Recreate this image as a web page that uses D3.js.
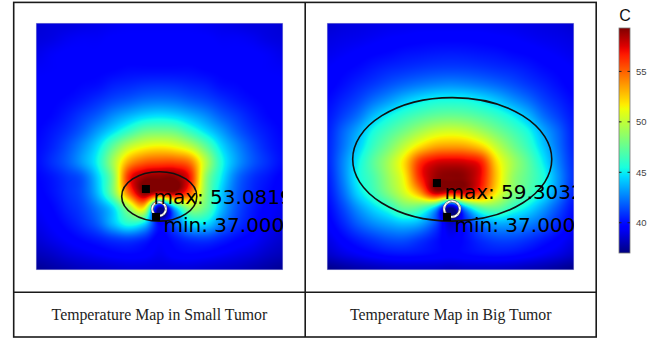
<!DOCTYPE html>
<html>
<head>
<meta charset="utf-8">
<script src="https://cdn.jsdelivr.net/npm/d3@7"></script>
<style>
  body { margin: 0; background: #fff; }
  svg { display: block; }
</style>
</head>
<body>
<svg id="chart"></svg>
<script>
// Temperature samples (deg C): 17 x 17 nodes, rows top -> bottom,
// node spacing 1/16 of the map width.
const smallTumor = [
  [38.2, 38.3, 38.3, 38.4, 38.5, 38.6, 38.7, 38.7, 38.7, 38.7, 38.7, 38.6, 38.5, 38.4, 38.3, 38.3, 38.2],
  [38.3, 38.4, 38.6, 38.7, 38.7, 38.8, 38.8, 38.8, 38.8, 38.8, 38.8, 38.8, 38.7, 38.7, 38.6, 38.4, 38.3],
  [38.5, 38.7, 38.8, 38.8, 38.8, 38.9, 38.9, 38.9, 38.9, 38.9, 38.9, 38.9, 38.8, 38.8, 38.8, 38.7, 38.5],
  [38.7, 38.75, 38.8, 38.9, 38.95, 39.0, 39.1, 39.1, 39.1, 39.1, 39.1, 39.0, 38.95, 38.9, 38.8, 38.75, 38.7],
  [38.8, 38.85, 38.9, 39.05, 39.15, 39.45, 39.6, 39.75, 39.8, 39.75, 39.6, 39.45, 39.15, 39.05, 38.9, 38.85, 38.8],
  [38.85, 38.95, 39.1, 39.35, 39.7, 40.1, 40.4, 40.7, 40.8, 40.7, 40.4, 40.1, 39.7, 39.35, 39.1, 38.95, 38.85],
  [38.9, 39.05, 39.4, 39.9, 40.45, 41.2, 41.8, 42.3, 42.5, 42.3, 41.8, 41.2, 40.45, 39.9, 39.4, 39.05, 38.9],
  [39.0, 39.3, 39.75, 40.45, 41.45, 42.5, 43.6, 44.6, 44.8, 44.6, 43.6, 42.5, 41.45, 40.45, 39.75, 39.3, 39.0],
  [39.1, 39.5, 40.2, 41.2, 42.5, 44.5, 46.3, 47.2, 47.5, 47.2, 46.3, 44.5, 42.5, 41.2, 40.2, 39.5, 39.1],
  [39.15, 39.7, 40.4, 41.5, 43.0, 45.8, 48.8, 50.0, 50.3, 50.3, 49.5, 46.2, 43.2, 41.5, 40.4, 39.7, 39.15],
  [39.0, 39.3, 39.8, 40.4, 42.3, 45.2, 51.0, 52.7, 52.9, 52.9, 51.2, 45.5, 42.8, 40.8, 39.8, 39.3, 38.9],
  [38.9, 39.2, 39.7, 40.3, 42.0, 45.0, 49.8, 53.0, 52.0, 52.5, 50.0, 45.2, 42.3, 40.5, 39.6, 39.1, 38.8],
  [38.7, 39.0, 39.5, 40.0, 41.0, 42.5, 45.5, 47.5, 37.0, 42.0, 45.5, 44.5, 42.0, 40.3, 39.4, 38.9, 38.6],
  [38.5, 38.8, 39.2, 39.7, 40.5, 42.0, 43.3, 42.5, 39.0, 40.5, 42.5, 42.5, 41.0, 39.9, 39.2, 38.7, 38.4],
  [38.2, 38.5, 38.8, 39.1, 39.4, 39.8, 40.0, 39.6, 38.8, 39.3, 39.8, 39.9, 39.5, 39.1, 38.8, 38.4, 38.1],
  [37.8, 38.0, 38.3, 38.5, 38.7, 38.9, 39.0, 38.9, 38.6, 38.9, 39.0, 38.9, 38.7, 38.5, 38.3, 38.0, 37.8],
  [37.3, 37.5, 37.7, 37.9, 38.0, 38.1, 38.2, 38.2, 38.2, 38.2, 38.2, 38.1, 38.0, 37.9, 37.7, 37.5, 37.3]
];

const bigTumor = [
  [38.6, 38.8, 38.9, 39.0, 39.1, 39.15, 39.2, 39.2, 39.2, 39.2, 39.2, 39.15, 39.1, 39.0, 38.9, 38.8, 38.6],
  [38.9, 39.05, 39.15, 39.3, 39.45, 39.55, 39.65, 39.7, 39.7, 39.7, 39.65, 39.55, 39.45, 39.3, 39.15, 39.05, 38.9],
  [39.15, 39.35, 39.55, 39.75, 39.9, 40.1, 40.2, 40.3, 40.35, 40.3, 40.2, 40.1, 39.9, 39.75, 39.55, 39.35, 39.15],
  [39.45, 39.7, 39.95, 40.3, 40.6, 40.8, 41.0, 41.15, 41.2, 41.15, 41.0, 40.8, 40.6, 40.3, 39.95, 39.7, 39.45],
  [39.6, 40.0, 40.5, 41.0, 41.55, 42.05, 42.45, 42.75, 42.9, 42.75, 42.45, 42.05, 41.55, 41.0, 40.5, 40.0, 39.6],
  [39.9, 40.5, 41.2, 42.2, 43.1, 44.05, 44.8, 45.3, 45.4, 45.3, 44.8, 44.05, 43.1, 42.2, 41.2, 40.5, 39.9],
  [40.2, 41.1, 42.2, 43.85, 45.1, 46.1, 46.85, 47.4, 47.6, 47.4, 46.85, 46.1, 45.1, 43.85, 42.2, 41.1, 40.2],
  [40.4, 41.9, 43.5, 45.4, 46.7, 47.9, 49.15, 50.15, 50.5, 50.15, 49.15, 47.9, 46.7, 45.4, 43.5, 41.9, 40.4],
  [40.5, 42.2, 44.2, 46.3, 48.0, 50.0, 52.0, 53.3, 53.6, 53.4, 52.3, 50.0, 48.0, 46.3, 44.2, 42.2, 40.5],
  [40.5, 42.6, 45.0, 47.2, 49.3, 52.0, 56.0, 57.5, 57.8, 57.6, 56.5, 52.0, 49.3, 47.3, 45.0, 42.6, 40.7],
  [40.3, 42.5, 45.2, 46.8, 49.0, 51.5, 56.3, 58.7, 59.1, 58.9, 57.0, 52.5, 49.0, 47.3, 45.6, 43.0, 40.8],
  [40.1, 42.0, 44.5, 46.3, 48.3, 50.5, 53.5, 58.0, 57.0, 57.5, 55.5, 51.5, 48.5, 46.8, 45.0, 42.7, 40.5],
  [39.8, 41.2, 43.0, 44.5, 45.8, 47.5, 47.0, 44.0, 37.0, 43.5, 47.0, 47.5, 46.0, 44.8, 43.2, 41.5, 40.0],
  [39.5, 40.5, 41.8, 42.8, 43.5, 44.0, 43.5, 41.5, 38.5, 40.5, 42.5, 43.5, 43.3, 42.7, 41.8, 40.6, 39.6],
  [39.0, 39.7, 40.4, 41.0, 41.5, 41.6, 41.0, 40.2, 39.4, 40.0, 40.8, 41.3, 41.3, 40.9, 40.3, 39.7, 39.0],
  [38.4, 38.9, 39.3, 39.7, 40.0, 40.1, 40.0, 39.8, 39.6, 39.8, 40.0, 40.1, 40.0, 39.7, 39.3, 38.9, 38.4],
  [37.2, 37.5, 37.8, 38.0, 38.2, 38.3, 38.3, 38.3, 38.2, 38.3, 38.3, 38.3, 38.2, 38.0, 37.8, 37.5, 37.2]
];

const panelTitles = ["Temperature Map in Small Tumor", "Temperature Map in Big Tumor"];
const minTemp = 37.0;
const maxTemps = [53.0819, 59.3032];
// map coordinates 0..100 across, 0..100 down
const maxPoints = [[44.5, 67.2], [44.5, 64.8]];
const minPoints = [[48.6, 78.5], [48.6, 78.5]];
const tumors = [[49.9, 70.2, 15.2, 10.0], [50.7, 55.2, 40.3, 25.0]]; // cx, cy, rx, ry
const vessels = [[49.8, 75.3, 2.8], [50.6, 75.3, 3.2]];             // cx, cy, r
const colorbarTicks = [40, 45, 50, 55];
const colorbarUnit = "C";

const width = 654, height = 339;
const mapSize = 247;
const mapLeft = [36, 327];
const mapTop = 23;

const svg = d3.select("#chart").attr("width", width).attr("height", height)
  .style("font-family", "'DejaVu Sans', sans-serif");

svg.append("rect").attr("width", width).attr("height", height).attr("fill", "#fff");

// jet colormap
const jetR = d3.scaleLinear().domain([0, 0.35, 0.66, 0.89, 1]).range([0, 0, 1, 1, 0.5]).clamp(true);
const jetG = d3.scaleLinear().domain([0, 0.125, 0.375, 0.64, 0.91, 1]).range([0, 0, 1, 1, 0, 0]).clamp(true);
const jetB = d3.scaleLinear().domain([0, 0.11, 0.34, 0.65, 1]).range([0.5, 1, 1, 0, 0]).clamp(true);
const jet = t => [jetR(t), jetG(t), jetB(t)].map(v => Math.round(v * 255));

// Catmull-Rom sampling of the node grid
const cubic = (p0, p1, p2, p3, t) =>
  p1 + 0.5 * t * (p2 - p0 + t * (2 * p0 - 5 * p1 + 4 * p2 - p3 + t * (3 * (p1 - p2) + p3 - p0)));

function sample(grid, gx, gy) {
  const n = grid.length - 1;
  const ix = Math.min(Math.floor(gx), n - 1), iy = Math.min(Math.floor(gy), n - 1);
  const tx = gx - ix, ty = gy - iy;
  const at = (r, c) => grid[Math.max(0, Math.min(n, r))][Math.max(0, Math.min(n, c))];
  const rows = [-1, 0, 1, 2].map(d =>
    cubic(at(iy + d, ix - 1), at(iy + d, ix), at(iy + d, ix + 1), at(iy + d, ix + 2), tx));
  return cubic(rows[0], rows[1], rows[2], rows[3], ty);
}

const defs = svg.append("defs");

[smallTumor, bigTumor].forEach((grid, p) => {
  const x = d3.scaleLinear().domain([0, 100]).range([mapLeft[p], mapLeft[p] + mapSize]);
  const y = d3.scaleLinear().domain([0, 100]).range([mapTop, mapTop + mapSize]);
  const node = d3.scaleLinear().domain([0, 100]).range([0, grid.length - 1]);
  const color = d3.scaleLinear().domain([minTemp, maxTemps[p]]).range([0, 1]).clamp(true);

  const canvas = document.createElement("canvas");
  canvas.width = mapSize; canvas.height = mapSize;
  const ctx = canvas.getContext("2d");
  const img = ctx.createImageData(mapSize, mapSize);
  for (let j = 0; j < mapSize; j++) {
    const gy = node(y.invert(mapTop + j + 0.5));
    for (let i = 0; i < mapSize; i++) {
      const gx = node(x.invert(mapLeft[p] + i + 0.5));
      const c = jet(color(sample(grid, gx, gy)));
      const k = (j * mapSize + i) * 4;
      img.data[k] = c[0]; img.data[k + 1] = c[1]; img.data[k + 2] = c[2]; img.data[k + 3] = 255;
    }
  }
  ctx.putImageData(img, 0, 0);

  svg.append("image")
    .attr("x", mapLeft[p]).attr("y", mapTop)
    .attr("width", mapSize).attr("height", mapSize)
    .attr("href", canvas.toDataURL());

  svg.append("rect")
    .attr("x", mapLeft[p] + 0.25).attr("y", mapTop + 0.25)
    .attr("width", mapSize - 0.5).attr("height", mapSize - 0.5)
    .attr("fill", "none").attr("stroke", "#9a9ad8").attr("stroke-width", 0.6);

  defs.append("clipPath").attr("id", "clip" + p)
    .append("rect").attr("x", mapLeft[p]).attr("y", mapTop)
    .attr("width", mapSize).attr("height", mapSize);

  const g = svg.append("g").attr("clip-path", `url(#clip${p})`);

  const tm = tumors[p];
  g.append("ellipse")
    .attr("cx", x(tm[0])).attr("cy", y(tm[1]))
    .attr("rx", x(tm[0] + tm[2]) - x(tm[0])).attr("ry", y(tm[1] + tm[3]) - y(tm[1]))
    .attr("fill", "none").attr("stroke", "#111").attr("stroke-width", 1.6);

  const v = vessels[p];
  const vr = x(v[0] + v[2]) - x(v[0]);
  g.append("circle")
    .attr("cx", x(v[0])).attr("cy", y(v[1])).attr("r", vr)
    .attr("fill", "none").attr("stroke", "#555").attr("stroke-width", 2.8);
  g.append("circle")
    .attr("cx", x(v[0])).attr("cy", y(v[1])).attr("r", vr)
    .attr("fill", "none").attr("stroke", "#fff").attr("stroke-width", 1.8);
  g.append("circle")
    .attr("cx", x(v[0])).attr("cy", y(v[1])).attr("r", vr)
    .attr("fill", "none").attr("stroke", "#bbb").attr("stroke-width", 1)
    .attr("stroke-dasharray", "2 3");

  const labels = [
    [maxPoints[p], "max: " + maxTemps[p].toFixed(4)],
    [minPoints[p], "min: " + minTemp.toFixed(4)]
  ];
  labels.forEach(([pt, label]) => {
    g.append("rect")
      .attr("x", x(pt[0]) - 4).attr("y", y(pt[1]) - 4)
      .attr("width", 8).attr("height", 8).attr("fill", "#000");
    g.append("text")
      .attr("x", x(pt[0]) + 7.5).attr("y", y(pt[1]) + 15.5)
      .attr("font-size", 20).attr("fill", "#000")
      .text(label);
  });
});

// table frame and captions
const frame = svg.append("g").attr("stroke", "#1a1a1a").attr("stroke-width", 1.6).attr("fill", "none");
frame.append("rect").attr("x", 13.7).attr("y", 2.4).attr("width", 582.5).attr("height", 334.6);
frame.append("line").attr("x1", 305.2).attr("x2", 305.2).attr("y1", 2.4).attr("y2", 337);
frame.append("line").attr("x1", 13.7).attr("x2", 596.2).attr("y1", 292.3).attr("y2", 292.3);

const cellCenters = [(13.7 + 305.2) / 2, (305.2 + 596.2) / 2];
svg.selectAll("text.caption")
  .data(panelTitles)
  .join("text")
  .attr("class", "caption")
  .attr("x", (d, i) => cellCenters[i])
  .attr("y", 320)
  .attr("text-anchor", "middle")
  .attr("font-family", "'Liberation Serif', 'Times New Roman', serif")
  .attr("font-size", 15.8)
  .attr("fill", "#222")
  .text(d => d);

// colorbar
const cbX = 619, cbW = 11;
const cbScale = d3.scaleLinear().domain([minTemp, maxTemps[1]]).range([253, 28]);
const grad = defs.append("linearGradient").attr("id", "jetbar")
  .attr("x1", 0).attr("y1", 1).attr("x2", 0).attr("y2", 0);
d3.range(0, 1.0001, 0.02).forEach(t => {
  const c = jet(t);
  grad.append("stop").attr("offset", t).attr("stop-color", `rgb(${c[0]},${c[1]},${c[2]})`);
});
svg.append("rect")
  .attr("x", cbX).attr("y", cbScale(maxTemps[1]))
  .attr("width", cbW).attr("height", cbScale(minTemp) - cbScale(maxTemps[1]))
  .attr("fill", "url(#jetbar)").attr("stroke", "#777").attr("stroke-width", 0.8);

const tickG = svg.append("g");
colorbarTicks.forEach(t => {
  tickG.append("line").attr("x1", cbX).attr("x2", cbX + 2.5)
    .attr("y1", cbScale(t)).attr("y2", cbScale(t)).attr("stroke", "#222").attr("stroke-width", 1);
  tickG.append("line").attr("x1", cbX + cbW - 2.5).attr("x2", cbX + cbW)
    .attr("y1", cbScale(t)).attr("y2", cbScale(t)).attr("stroke", "#222").attr("stroke-width", 1);
  tickG.append("text").attr("x", cbX + cbW + 6).attr("y", cbScale(t))
    .attr("dy", "0.35em").attr("font-size", 9.5)
    .attr("font-family", "'Liberation Sans', Arial, sans-serif").attr("fill", "#444")
    .text(t);
});
svg.append("text")
  .attr("x", cbX + cbW / 2 + 0.5).attr("y", 21)
  .attr("text-anchor", "middle")
  .attr("font-family", "'Liberation Sans', Arial, sans-serif")
  .attr("font-size", 16).attr("fill", "#111")
  .text(colorbarUnit);
</script>
</body>
</html>
